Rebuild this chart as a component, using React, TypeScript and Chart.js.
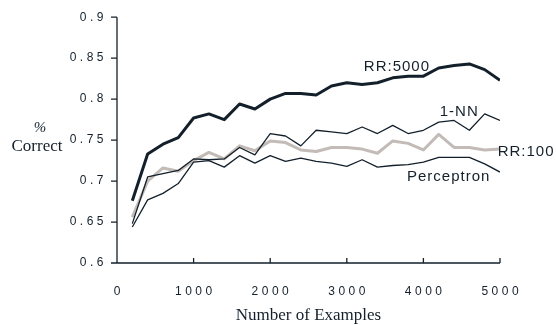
import React, { useEffect, useRef } from "react";
import { Chart, registerables } from "chart.js";

Chart.register(...registerables);

const examples = [200, 400, 600, 800, 1000, 1200, 1400, 1600, 1800, 2000, 2200, 2400, 2600, 2800, 3000, 3200, 3400, 3600, 3800, 4000, 4200, 4400, 4600, 4800, 5000];

const rr5000 = [0.676, 0.733, 0.745, 0.753, 0.777, 0.782, 0.775, 0.794, 0.788, 0.800, 0.807, 0.807, 0.805, 0.816, 0.820, 0.818, 0.820, 0.826, 0.828, 0.828, 0.838, 0.841, 0.843, 0.836, 0.823];
const nn1 = [0.648, 0.705, 0.709, 0.713, 0.727, 0.726, 0.727, 0.741, 0.732, 0.758, 0.755, 0.743, 0.762, 0.760, 0.758, 0.766, 0.758, 0.768, 0.758, 0.762, 0.772, 0.774, 0.762, 0.782, 0.774];
const rr100 = [0.656, 0.700, 0.716, 0.712, 0.725, 0.735, 0.727, 0.743, 0.737, 0.749, 0.747, 0.738, 0.736, 0.741, 0.741, 0.739, 0.734, 0.749, 0.746, 0.738, 0.757, 0.741, 0.741, 0.738, 0.739];
const perceptron = [0.644, 0.677, 0.685, 0.697, 0.723, 0.725, 0.717, 0.731, 0.722, 0.731, 0.724, 0.728, 0.724, 0.722, 0.718, 0.726, 0.717, 0.719, 0.720, 0.723, 0.729, 0.729, 0.729, 0.721, 0.711];

const xTickLabels = ["0", "1000", "2000", "3000", "4000", "5000"];
const yTickLabels = ["0.6", "0.65", "0.7", "0.75", "0.8", "0.85", "0.9"];

const seriesLabels = ["RR:5000", "1-NN", "RR:100", "Perceptron"];
const labelX = [3222, 4213, 4969, 3786];
const labelY = [0.839, 0.784, 0.736, 0.7054];

const xTitle = "Number of Examples";
const yTitle = ["%", "Correct"];

const DARK = "#13202b";
const GRAY = "#c3bbb7";

const decor = {
  id: "decor",
  beforeDraw(chart: any) {
    (chart.ctx as any).letterSpacing = "3.5px";
  },
  afterDraw(chart: any) {
    const ctx = chart.ctx;
    const xs = chart.scales.x;
    const ys = chart.scales.y;
    ctx.save();
    (ctx as any).letterSpacing = "0px";
    ctx.strokeStyle = DARK;
    ctx.lineWidth = 1.3;
    const left = xs.getPixelForValue(0);
    const bottom = ys.getPixelForValue(0.6);
    const top = ys.getPixelForValue(0.9);
    const right = xs.getPixelForValue(5000);
    ctx.beginPath();
    ctx.moveTo(left, top);
    ctx.lineTo(left, bottom);
    ctx.lineTo(right, bottom);
    ys.ticks.forEach((t: any) => {
      const y = ys.getPixelForValue(t.value);
      ctx.moveTo(left - 6, y);
      ctx.lineTo(left, y);
    });
    xs.ticks.forEach((t: any) => {
      if (t.value === 0) return;
      const x = xs.getPixelForValue(t.value);
      ctx.moveTo(x, bottom);
      ctx.lineTo(x, bottom - 5);
    });
    ctx.stroke();

    ctx.fillStyle = DARK;
    ctx.font = "17px 'Liberation Serif'";
    ctx.textAlign = "center";
    ctx.textBaseline = "middle";
    ctx.fillText(xTitle, (left + right) / 2, 316);
    ctx.font = "italic 15px 'Liberation Serif'";
    ctx.fillText(yTitle[0], 40, 128);
    ctx.font = "17px 'Liberation Serif'";
    ctx.fillText(yTitle[1], 37, 147);

    ctx.font = "15px 'Liberation Sans'";
    (ctx as any).letterSpacing = "1px";
    ctx.textAlign = "left";
    seriesLabels.forEach((s, i) => {
      ctx.fillText(s, xs.getPixelForValue(labelX[i]), ys.getPixelForValue(labelY[i]));
    });
    ctx.restore();
    (ctx as any).letterSpacing = "0px";
  },
};

export default function App() {
  const ref = useRef<HTMLCanvasElement | null>(null);
  useEffect(() => {
    if (!ref.current) return;
    const mk = (label: string, data: number[], color: string, width: number) => ({
      label,
      data: examples.map((x, i) => ({ x, y: data[i] })),
      borderColor: color,
      backgroundColor: color,
      borderWidth: width,
      pointRadius: 0,
      tension: 0,
      fill: false,
      borderJoinStyle: "round" as const,
    });
    const chart = new Chart(ref.current, {
      type: "line",
      data: {
        datasets: [
          mk(seriesLabels[3], perceptron, DARK, 1.3),
          mk(seriesLabels[1], nn1, DARK, 1.3),
          mk(seriesLabels[2], rr100, GRAY, 3),
          mk(seriesLabels[0], rr5000, DARK, 3),
        ],
      },
      options: {
        animation: false,
        responsive: true,
        maintainAspectRatio: false,
        layout: { padding: { top: 16, right: 56, left: 0, bottom: 0 } },
        plugins: { legend: { display: false }, tooltip: { enabled: false } },
        scales: {
          x: {
            type: "linear",
            min: 0,
            max: 5000,
            grid: { display: false, drawTicks: false },
            border: { display: false },
            ticks: {
              stepSize: 1000,
              autoSkip: false,
              maxRotation: 0,
              padding: 21,
              labelOffset: 1.75,
              color: DARK,
              font: { family: "'Liberation Sans'", size: 12 },
              callback: (_v: any, i: number) => xTickLabels[i],
            },
            afterFit: (s: any) => {
              s.height = 62;
            },
          },
          y: {
            type: "linear",
            min: 0.6,
            max: 0.9,
            grid: { display: false, drawTicks: false },
            border: { display: false },
            ticks: {
              stepSize: 0.05,
              autoSkip: false,
              padding: 10,
              color: DARK,
              font: { family: "'Liberation Sans'", size: 12 },
              callback: (_v: any, i: number) => yTickLabels[i],
            },
            afterFit: (s: any) => {
              s.width = 117;
            },
          },
        },
      },
      plugins: [decor],
    });
    return () => chart.destroy();
  }, []);
  return (
    <div style={{ position: "fixed", left: 0, top: 0, width: 556, height: 325, background: "#fff" }}>
      <canvas ref={ref} />
    </div>
  );
}
